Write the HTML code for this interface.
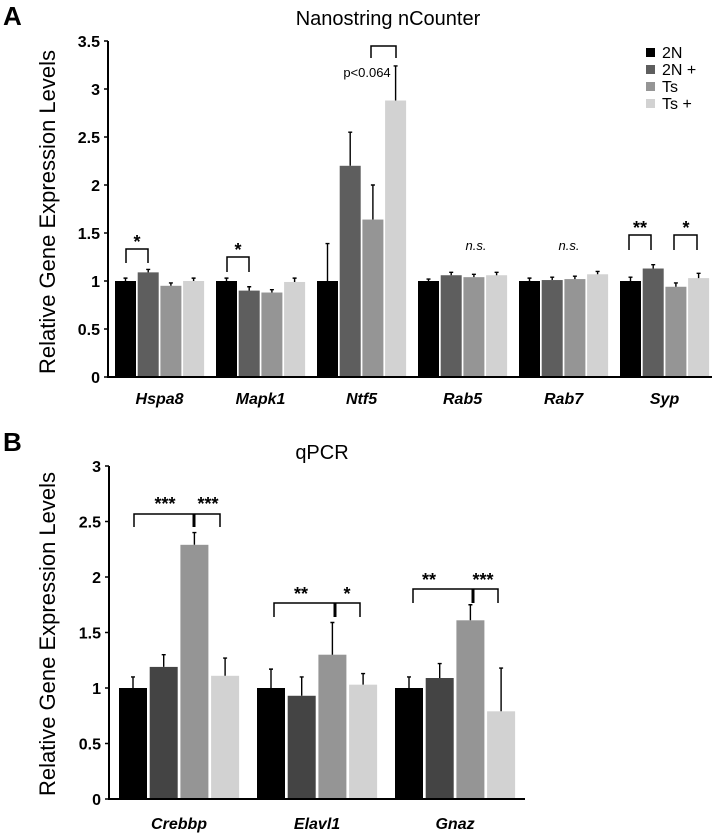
<!DOCTYPE html>
<html><head><meta charset="utf-8"><style>
body{margin:0;background:#fff}
svg{display:block;font-family:"Liberation Sans",sans-serif}
</style></head><body>
<svg id="fig" width="714" height="833" viewBox="0 0 714 833">
<text x="3" y="25" font-size="26" font-weight="bold">A</text>
<text x="388" y="25" font-size="20" text-anchor="middle">Nanostring nCounter</text>
<text transform="translate(55,212) rotate(-90)" font-size="22" text-anchor="middle">Relative Gene Expression Levels</text>
<text x="3" y="451" font-size="26" font-weight="bold">B</text>
<text x="322" y="459" font-size="20" text-anchor="middle">qPCR</text>
<text transform="translate(55,634) rotate(-90)" font-size="22" text-anchor="middle">Relative Gene Expression Levels</text>
<g>
<rect x="646" y="48" width="9" height="9" fill="#000"/><text x="662" y="58" font-size="16">2N</text>
<rect x="646" y="65" width="9" height="9" fill="#5e5e5e"/><text x="662" y="75" font-size="16">2N +</text>
<rect x="646" y="82" width="9" height="9" fill="#959595"/><text x="662" y="92" font-size="16">Ts</text>
<rect x="646" y="99" width="9" height="9" fill="#d2d2d2"/><text x="662" y="109" font-size="16">Ts +</text>
</g>
<g id="annA" font-size="18" font-weight="bold" text-anchor="middle">
<path d="M126 263V249H148V263" fill="none" stroke="#000" stroke-width="1.5"/><text x="137" y="248">*</text>
<path d="M227 272V257H249V272" fill="none" stroke="#000" stroke-width="1.5"/><text x="238" y="256">*</text>
<path d="M371 58V46H396V58" fill="none" stroke="#000" stroke-width="1.5"/>
<text x="367" y="77" font-size="13" font-weight="normal">p&lt;0.064</text>
<text x="476" y="250" font-size="13" font-weight="normal" font-style="italic">n.s.</text>
<text x="569" y="250" font-size="13" font-weight="normal" font-style="italic">n.s.</text>
<path d="M629 250V235H651V250" fill="none" stroke="#000" stroke-width="1.5"/><text x="640" y="234">**</text>
<path d="M674 250V235H697V250" fill="none" stroke="#000" stroke-width="1.5"/><text x="686" y="234">*</text>
</g>
<g id="annB" font-size="18" font-weight="bold" text-anchor="middle">
<path d="M134 527V514H220V527M194 514V527" fill="none" stroke="#000" stroke-width="1.5"/><path d="M194 514V527" stroke="#000" stroke-width="3"/>
<text x="165" y="510">***</text><text x="208" y="510">***</text>
<path d="M274 617V603H360V617" fill="none" stroke="#000" stroke-width="1.5"/><path d="M335 603V617" stroke="#000" stroke-width="3"/>
<text x="301" y="600">**</text><text x="347" y="600">*</text>
<path d="M413 603V589H498V603" fill="none" stroke="#000" stroke-width="1.5"/><path d="M473 589V603" stroke="#000" stroke-width="3"/>
<text x="429" y="586">**</text><text x="483" y="586">***</text>
</g>
</svg>
<script>
const seriesNames = ["2N","2N +","Ts","Ts +"];
const catsA = ["Hspa8","Mapk1","Ntf5","Rab5","Rab7","Syp"];
const valsA_2N = [1.0,1.0,1.0,1.0,1.0,1.0];
const valsA_2Np = [1.09,0.90,2.20,1.06,1.01,1.13];
const valsA_Ts = [0.95,0.88,1.64,1.04,1.02,0.94];
const valsA_Tsp = [1.0,0.99,2.88,1.06,1.07,1.03];
const errA_2N = [0.03,0.03,0.39,0.02,0.03,0.04];
const errA_2Np = [0.03,0.04,0.35,0.03,0.03,0.04];
const errA_Ts = [0.03,0.03,0.36,0.03,0.03,0.04];
const errA_Tsp = [0.03,0.04,0.36,0.03,0.03,0.05];
const ticksA = ["0","0.5","1","1.5","2","2.5","3","3.5"];
const catsB = ["Crebbp","Elavl1","Gnaz"];
const valsB_2N = [1.0,1.0,1.0];
const valsB_2Np = [1.19,0.93,1.09];
const valsB_Ts = [2.29,1.30,1.61];
const valsB_Tsp = [1.11,1.03,0.79];
const errB_2N = [0.10,0.17,0.10];
const errB_2Np = [0.11,0.17,0.13];
const errB_Ts = [0.11,0.29,0.14];
const errB_Tsp = [0.16,0.10,0.39];
const ticksB = ["0","0.5","1","1.5","2","2.5","3"];

const NS="http://www.w3.org/2000/svg";
const svg=document.getElementById('fig');
function mk(tag,attrs,parent){const e=document.createElementNS(NS,tag);for(const k in attrs)e.setAttribute(k,attrs[k]);(parent||svg).appendChild(e);return e;}

function drawPanel(p){
  const g=mk('g',{});
  
  
  const y=v=>p.y0-v*p.unit;
  const x=(gi,si)=>p.x0+gi*p.gstep+si*p.bstep;
  const series=[p.v1,p.v2,p.v3,p.v4], errs=[p.e1,p.e2,p.e3,p.e4];
  p.cats.forEach((c,gi)=>{
    series.forEach((arr,si)=>{
      const bx=x(gi,si), top=y(arr[gi]);
      const r=mk('rect',{x:bx,y:top,width:p.bw,height:p.y0-top,fill:p.colors[si]},g);
      
      
      const cx=bx+p.bw/2, et=y(arr[gi]+errs[si][gi]);
      const eb=mk('path',{d:`M${cx} ${top}V${et}M${cx-2} ${et}H${cx+2}`,stroke:'#000','stroke-width':1.4,fill:'none'},g);
      
      
    });
    const lx=x(gi,0)+(3*p.bstep+p.bw)/2;
    const t=mk('text',{x:lx,y:p.labelY,'font-size':16,'font-weight':'bold','font-style':'italic','text-anchor':'middle'},g);
    t.textContent=c;
    
    
  });
  p.ticks.forEach((tk,i)=>{
    const v=parseFloat(tk), ty=y(v);
    const tl=mk('path',{d:`M${p.axisX-4} ${ty}H${p.axisX}`,stroke:'#000','stroke-width':1.5},g);
    
    
    const t=mk('text',{x:p.axisX-8,y:ty+6,'font-size':16,'font-weight':'bold','text-anchor':'end'},g);
    t.textContent=tk;
    
    
  });
  const top=y(parseFloat(p.ticks[p.ticks.length-1]));
  const ax=mk('path',{d:`M${p.axisX} ${top}V${p.y0}H${p.axisEnd}`,stroke:'#000','stroke-width':2,fill:'none'},g);
  
  
}
drawPanel({id:'panel-a',cats:catsA,v1:valsA_2N,v2:valsA_2Np,v3:valsA_Ts,v4:valsA_Tsp,e1:errA_2N,e2:errA_2Np,e3:errA_Ts,e4:errA_Tsp,ticks:ticksA,
  y0:377,unit:96,x0:115,gstep:101,bstep:22.7,bw:21,axisX:108,axisEnd:712,labelY:404,colors:['#000','#5e5e5e','#959595','#d2d2d2']});
drawPanel({id:'panel-b',cats:catsB,v1:valsB_2N,v2:valsB_2Np,v3:valsB_Ts,v4:valsB_Tsp,e1:errB_2N,e2:errB_2Np,e3:errB_Ts,e4:errB_Tsp,ticks:ticksB,
  y0:799,unit:111,x0:119,gstep:138,bstep:30.7,bw:28,axisX:109,axisEnd:525,labelY:829,colors:['#000','#444','#959595','#d2d2d2']});
</script>
</body></html>
